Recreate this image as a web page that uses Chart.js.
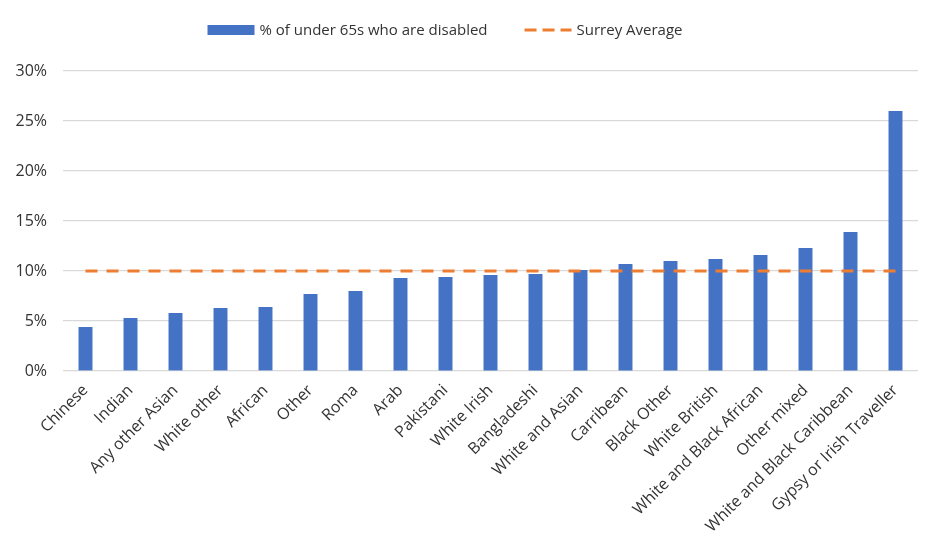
<!DOCTYPE html>
<html>
<head>
<meta charset="utf-8">
<script src="https://cdn.jsdelivr.net/npm/chart.js@4.4.1/dist/chart.umd.min.js"></script>
<style>
  html, body { margin: 0; padding: 0; background: #fff; }
  #wrap { width: 940px; height: 556px; }
</style>
</head>
<body>
<div id="wrap"><canvas id="grafico" width="940" height="556"></canvas></div>
<script>
// dados
const grupos = ['Chinese', 'Indian', 'Any other Asian', 'White other', 'African', 'Other', 'Roma', 'Arab',
  'Pakistani', 'White Irish', 'Bangladeshi', 'White and Asian', 'Carribean', 'Black Other', 'White British',
  'White and Black African', 'Other mixed', 'White and Black Caribbean', 'Gypsy or Irish Traveller'];
const percDeficientes = [4.4, 5.3, 5.8, 6.3, 6.4, 7.7, 8.0, 9.3, 9.4, 9.6, 9.7, 10.1, 10.7, 11.0, 11.2, 11.6, 12.3, 13.9, 26.0];
const mediaSurrey = [10, 10, 10, 10, 10, 10, 10, 10, 10, 10, 10, 10, 10, 10, 10, 10, 10, 10, 10];
const ticksY = [0, 5, 10, 15, 20, 25, 30];

const fonte = "'Open Sans', sans-serif";
const azul = '#4472C4';
const laranja = '#ED7D31';
const corTexto = '#333333';

// legenda desenhada à mão, para ficar no mesmo lugar do original
const legendaManual = {
  id: 'legendaManual',
  afterDraw(chart) {
    const ctx = chart.ctx;
    const itens = chart.data.datasets.map(ds => ({ texto: ds.label, tipo: ds.type, cor: ds.borderColor || ds.backgroundColor }));
    ctx.save();
    ctx.font = '15px ' + fonte;
    ctx.textBaseline = 'middle';
    const caixa = 47, gap = 5, entre = 37;
    let total = 0;
    itens.forEach((it, i) => { total += caixa + gap + ctx.measureText(it.texto).width + (i ? entre : 0); });
    let x = 445 - total / 2;
    const y = 30;
    itens.forEach(it => {
      if (it.tipo === 'line') {
        ctx.strokeStyle = it.cor;
        ctx.lineWidth = 3;
        ctx.setLineDash([12, 6]);
        ctx.beginPath();
        ctx.moveTo(x, y);
        ctx.lineTo(x + caixa, y);
        ctx.stroke();
        ctx.setLineDash([]);
      } else {
        ctx.fillStyle = it.cor;
        ctx.fillRect(x, y - 5, caixa, 10);
      }
      x += caixa + gap;
      ctx.fillStyle = corTexto;
      ctx.fillText(it.texto, x, y + 1);
      x += ctx.measureText(it.texto).width + entre;
    });
    ctx.restore();
  }
};

const ctx = document.getElementById('grafico').getContext('2d');
const grafico = new Chart(ctx, {
  data: {
    labels: grupos,
    datasets: [
      {
        type: 'bar',
        label: '% of under 65s who are disabled',
        data: percDeficientes,
        backgroundColor: azul,
        categoryPercentage: 1,
        barPercentage: 0.31,
        order: 1
      },
      {
        type: 'line',
        label: 'Surrey Average',
        data: mediaSurrey,
        borderColor: laranja,
        borderWidth: 3,
        borderDash: [12, 9],
        pointRadius: 0,
        fill: false,
        order: 0
      }
    ]
  },
  plugins: [legendaManual],
  options: {
    responsive: false,
    animation: false,
    layout: { padding: { top: 71, right: 22, left: 0, bottom: 0 } },
    plugins: {
      legend: { display: false },
      tooltip: { enabled: false }
    },
    scales: {
      x: {
        grid: { display: false, drawTicks: false },
        border: { display: false },
        ticks: {
          font: { family: fonte, size: 16 },
          color: corTexto,
          maxRotation: 45,
          minRotation: 45,
          autoSkip: false,
          padding: 10
        },
        afterFit(scale) { scale.height = 185; }
      },
      y: {
        min: 0,
        max: 30,
        afterBuildTicks(scale) { scale.ticks = ticksY.map(v => ({ value: v })); },
        grid: { color: '#D9D9D9', lineWidth: 1.2, drawTicks: false },
        border: { display: false },
        ticks: {
          font: { family: fonte, size: 16 },
          color: corTexto,
          padding: 16,
          callback: v => v + '%'
        },
        afterFit(scale) { scale.width = 63; }
      }
    }
  }
});
</script>
</body>
</html>
